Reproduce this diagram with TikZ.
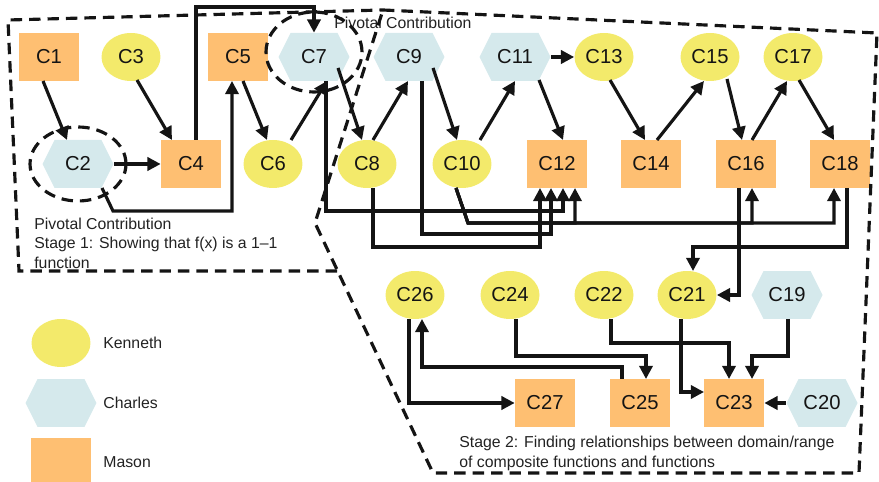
\documentclass[tikz,border=0pt]{standalone}
\usepackage{fontspec}
\setmainfont{Liberation Sans}
\usetikzlibrary{arrows.meta,calc,shapes.geometric}
\definecolor{kfill}{HTML}{F3EA6B}
\definecolor{cfill}{HTML}{D5E9EC}
\definecolor{mfill}{HTML}{FEBF72}
\definecolor{ink}{HTML}{141414}
\definecolor{txt}{HTML}{222222}
\begin{document}
\begin{tikzpicture}[x=0.02cm,y=-0.02cm,
  box/.style={inner sep=0pt, text=ink, font=\fontsize{11.5}{13}\selectfont},
  kenneth/.style={box, ellipse, fill=kfill, minimum width=1.18cm, minimum height=0.96cm},
  mason/.style={box, rectangle, fill=mfill, minimum width=1.2cm, minimum height=0.96cm},
  charles/.style={box, rectangle, minimum width=1.42cm, minimum height=0.96cm,
    path picture={\fill[cfill] (path picture bounding box.west)
      -- ([xshift=0.24cm]path picture bounding box.north west)
      -- ([xshift=-0.24cm]path picture bounding box.north east)
      -- (path picture bounding box.east)
      -- ([xshift=-0.24cm]path picture bounding box.south east)
      -- ([xshift=0.24cm]path picture bounding box.south west) -- cycle;}},
  link/.style={draw=ink, line width=1.8pt, -{Triangle[length=7.5pt,width=7.5pt]}},
  region/.style={draw=ink, line width=1.8pt, dash pattern=on 6.5pt off 4pt},
  note/.style={text=txt, font=\fontsize{9}{11.06}\selectfont, inner sep=0pt, align=left},
]
\useasboundingbox (0,0) rectangle (879,482);
\clip (0,0) rectangle (879,482);

% first row
\node[mason]   (C1)  at (49,57)  {C1};
\node[kenneth] (C3)  at (131,57) {C3};
\node[mason]   (C5)  at (238,57) {C5};
\node[charles] (C7)  at (314,57) {C7};
\node[charles] (C9)  at (409,57) {C9};
\node[charles] (C11) at (515,57) {C11};
\node[kenneth] (C13) at (604,57) {C13};
\node[kenneth] (C15) at (710,57) {C15};
\node[kenneth] (C17) at (793,57) {C17};
% second row
\node[charles] (C2)  at (78,164)  {C2};
\node[mason]   (C4)  at (191,164) {C4};
\node[kenneth] (C6)  at (273,164) {C6};
\node[kenneth] (C8)  at (367,164) {C8};
\node[kenneth] (C10) at (462,164) {C10};
\node[mason]   (C12) at (557,164) {C12};
\node[mason]   (C14) at (651,164) {C14};
\node[mason]   (C16) at (746,164) {C16};
\node[mason]   (C18) at (840,164) {C18};
% third row
\node[kenneth] (C26) at (415,295) {C26};
\node[kenneth] (C24) at (510,295) {C24};
\node[kenneth] (C22) at (604,295) {C22};
\node[kenneth] (C21) at (687,295) {C21};
\node[charles] (C19) at (787,295) {C19};
% fourth row
\node[mason]   (C27) at (545,403) {C27};
\node[mason]   (C25) at (640,403) {C25};
\node[mason]   (C23) at (734,403) {C23};
\node[charles] (C20) at (822,403) {C20};

% legend
\node[kenneth] (LK) at (61,343) {};
\node[charles] (LC) at (61,403) {};
\node[mason]   (LM) at (61,462) {};
\node[note, anchor=west] (LKt) at (103,343) {Kenneth};
\node[note, anchor=west] (LCt) at (103,403) {Charles};
\node[note, anchor=west] (LMt) at (103,462) {Mason};

% captions
\node[note, anchor=west] (pc) at (334,23) {Pivotal Contribution};
\node[note, anchor=west] (s1) at (34,243) {Pivotal Contribution\\Stage 1: Showing that f(x) is a 1–1\\function};
\node[note, anchor=west] (s2) at (459,453.5) {Stage 2: Finding relationships between domain/range\\of composite functions and functions};

% straight connectors
\draw[link] ($(C1)+(-6,24)$) -- ($(C2)+(-11,-24)$);
\draw[link] ($(C3)+(6,23)$) -- ($(C4)+(-19,-24)$);
\draw[link] (C2.east) -- (C4.west);
\draw[link] ($(C5)+(5,24)$) -- ($(C6)+(-6,-24)$);
\draw[link] ($(C6)+(18,-24)$) -- ($(C7)+(13,24)$);
\draw[link] ($(C7)+(24,11)$) -- ($(C8)+(-5,-24)$);
\draw[link] ($(C8)+(6,-24)$) -- ($(C9)+(-1,24)$);
\draw[link] ($(C9)+(24,11)$) -- ($(C10)+(-5,-24)$);
\draw[link] ($(C10)+(18,-24)$) -- ($(C11)+(0,24)$);
\draw[link] ($(C11)+(24,23)$) -- ($(C12)+(6,-24)$);
\draw[link] (C11.east) -- (C13.west);
\draw[link] ($(C13)+(6,23)$) -- ($(C14)+(-6,-24)$);
\draw[link] ($(C14)+(6,-24)$) -- ($(C15)+(-6,24)$);
\draw[link] ($(C15)+(17,22)$) -- ($(C16)+(-4,-24)$);
\draw[link] ($(C16)+(6,-24)$) -- ($(C17)+(-6,24)$);
\draw[link] ($(C17)+(6,23)$) -- ($(C18)+(-6,-24)$);
\draw[link] (C20.west) -- (C23.east);

% elbow connectors
\draw[link] ($(C4)+(5,-24)$) -- ($(C4)+(5,-157)$) -| (C7.north);
\draw[link] ($(C2)+(24,24)$) -- ($(C2)+(35,47)$) -| ($(C5)+(-6,24)$);
\draw[link] ($(C7)+(12,24)$) -- ($(C7)+(12,154)$) -| ($(C12)+(6,24)$);
\draw[link] ($(C9)+(13,24)$) -- ($(C9)+(13,177)$) -| ($(C12)+(-6,24)$);
\draw[link] ($(C8)+(6,24)$) -- ($(C8)+(6,83)$) -| ($(C12)+(-17,24)$);
\draw[link] ($(C10)+(-6,24)$) -- ($(C10)+(6,59)$) -| ($(C12)+(18,24)$);
\draw[link] ($(C10)+(-6,24)$) -- ($(C10)+(6,59)$) -| ($(C16)+(6,24)$);
\draw[link] ($(C10)+(-6,24)$) -- ($(C10)+(6,59)$) -| ($(C18)+(-6,24)$);
\draw[link] ($(C16)+(-7,24)$) |- (C21.east);
\draw[link] ($(C18)+(7,24)$) -- ($(C18)+(7,83)$) -| ($(C21)+(6,-24)$);
\draw[link] ($(C24)+(6,24)$) -- ($(C24)+(6,61)$) -| ($(C25)+(6,-24)$);
\draw[link] ($(C22)+(7,24)$) -- ($(C22)+(7,48)$) -| ($(C23)+(-5,-24)$);
\draw[link] ($(C19)+(1,24)$) -- ($(C19)+(1,61)$) -| ($(C23)+(18,-24)$);
\draw[link] ($(C21)+(-6,24)$) |- ($(C23)+(-30,-11)$);
\draw[link] ($(C25)+(-18,-24)$) -- ($(C25)+(-18,-36)$) -| ($(C26)+(7,24)$);
\draw[link] ($(C26)+(-6,24)$) |- (C27.west);

% stage outlines and pivotal rings
\draw[region] (337,271) -- (19,271) -- (8,20) -- (383,10);
\draw[region] (383,10) -- (877,33) -- (859,473) -- (433,473) -- (315,223) -- cycle;
\draw[region] (C2) ellipse [x radius=0.96cm, y radius=0.74cm];
\draw[region] (314,52) ellipse [x radius=0.96cm, y radius=0.80cm];
\end{tikzpicture}
\end{document}
